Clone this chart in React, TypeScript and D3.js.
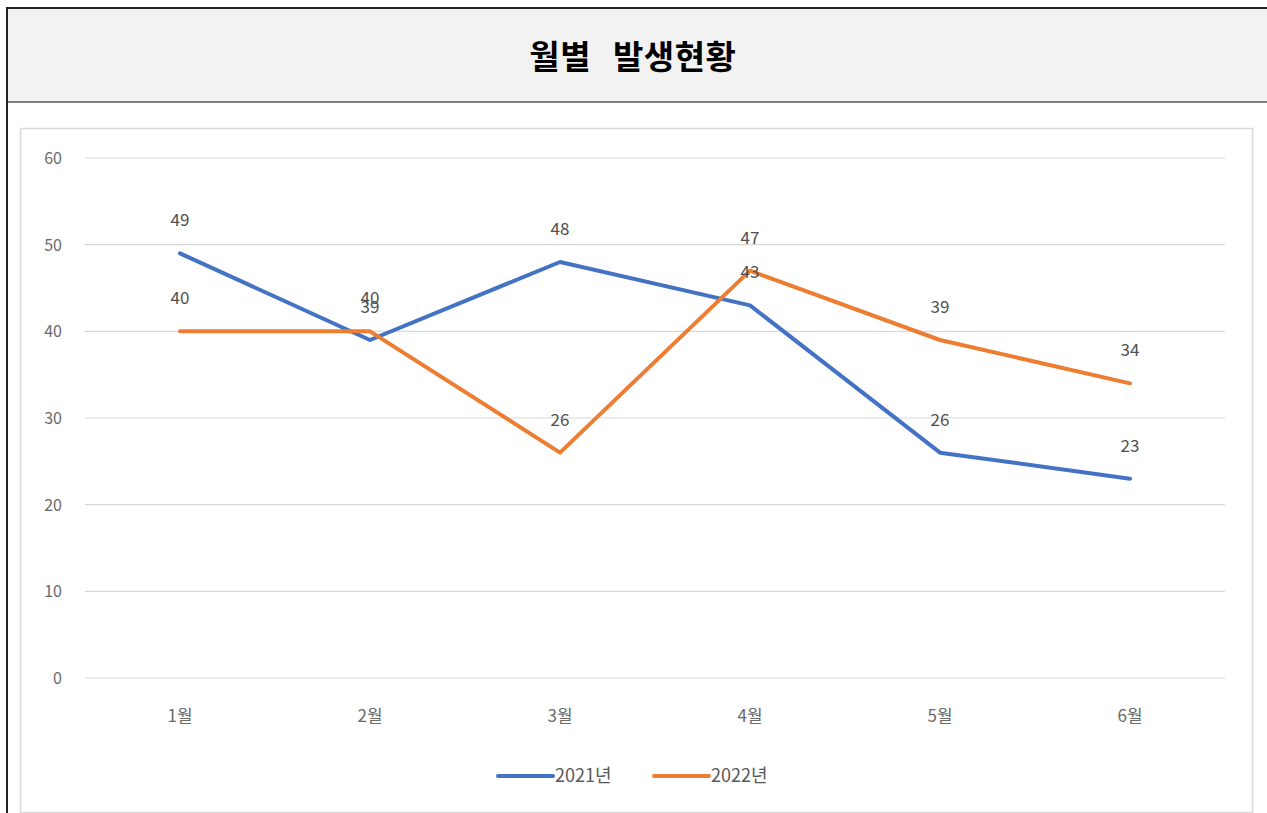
import React from "react";
import * as d3 from "d3";

const categories = ["1월", "2월", "3월", "4월", "5월", "6월"];
const series2021 = [49, 39, 48, 43, 26, 23];
const series2022 = [40, 40, 26, 47, 39, 34];
const yTicks = [0, 10, 20, 30, 40, 50, 60];
const seriesNames = ["2021년", "2022년"];
const colors = ["#4472C4", "#ED7D31"];
const titleParts = ["월별", "발생현황"];

export default function App() {
  const W = 1267, H = 813;
  const x = d3.scaleBand().domain(categories).range([85, 1225]);
  const y = d3.scaleLinear().domain([0, 60]).range([678, 158]);
  const line = d3
    .line<number>()
    .x((_, i) => (x(categories[i]) as number) + x.bandwidth() / 2)
    .y((d) => y(d));
  const allSeries = [series2021, series2022];
  const font = "'Noto Sans CJK KR', 'Noto Sans', sans-serif";
  return (
    <svg width={W} height={H} style={{ position: "absolute", left: 0, top: 0, background: "#fff" }}>
      <rect x={0} y={0} width={W} height={H} fill="#fff" />
      {/* title box */}
      <rect x={8} y={8} width={W - 8} height={94} fill="#f2f2f2" />
      <line x1={7} x2={W} y1={8} y2={8} stroke="#222" strokeWidth={2} />
      <line x1={7} x2={W} y1={102} y2={102} stroke="#555" strokeWidth={1.5} />
      <line x1={7} x2={7} y1={7} y2={H} stroke="#222" strokeWidth={2} />
      <text x={591} y={69} textAnchor="end" fontFamily={font} fontWeight="bold" fontSize={33} letterSpacing={0.5} fill="#000">
        {titleParts[0]}
      </text>
      <text x={613} y={69} textAnchor="start" fontFamily={font} fontWeight="bold" fontSize={33} letterSpacing={0.5} fill="#000">
        {titleParts[1]}
      </text>
      {/* chart frame */}
      <rect x={20.5} y={128.5} width={1232} height={684} fill="#fff" stroke="#d9d9d9" strokeWidth={1.5} />
      {yTicks.map((t) => (
        <g key={t}>
          <line x1={85} x2={1225} y1={y(t)} y2={y(t)} stroke="#d9d9d9" strokeWidth={1.2} />
          <text x={62} y={y(t) + 6} textAnchor="end" fontFamily={font} fontSize={16} fill="#6a6a6a">
            {t}
          </text>
        </g>
      ))}
      {categories.map((c) => (
        <text
          key={c}
          x={(x(c) as number) + x.bandwidth() / 2}
          y={722}
          textAnchor="middle"
          fontFamily={font}
          fontSize={17}
          fill="#6a6a6a"
        >
          {c}
        </text>
      ))}
      {allSeries.map((s, si) => (
        <path
          key={si}
          d={line(s) as string}
          fill="none"
          stroke={colors[si]}
          strokeWidth={4}
          strokeLinejoin="round"
          strokeLinecap="round"
        />
      ))}
      {allSeries.map((s, si) =>
        s.map((v, i) => (
          <text
            key={si + "-" + i}
            x={(x(categories[i]) as number) + x.bandwidth() / 2}
            y={y(v) - 27}
            textAnchor="middle"
            fontFamily={font}
            fontSize={17}
            fill="#505050"
          >
            {v}
          </text>
        ))
      )}
      {/* legend */}
      {seriesNames.map((n, i) => {
        const lx = 498 + i * 156;
        return (
          <g key={n}>
            <line x1={lx} x2={lx + 55} y1={776} y2={776} stroke={colors[i]} strokeWidth={4} strokeLinecap="round" />
            <text x={lx + 57} y={782} fontFamily={font} fontSize={18} fill="#595959">
              {n}
            </text>
          </g>
        );
      })}
    </svg>
  );
}
